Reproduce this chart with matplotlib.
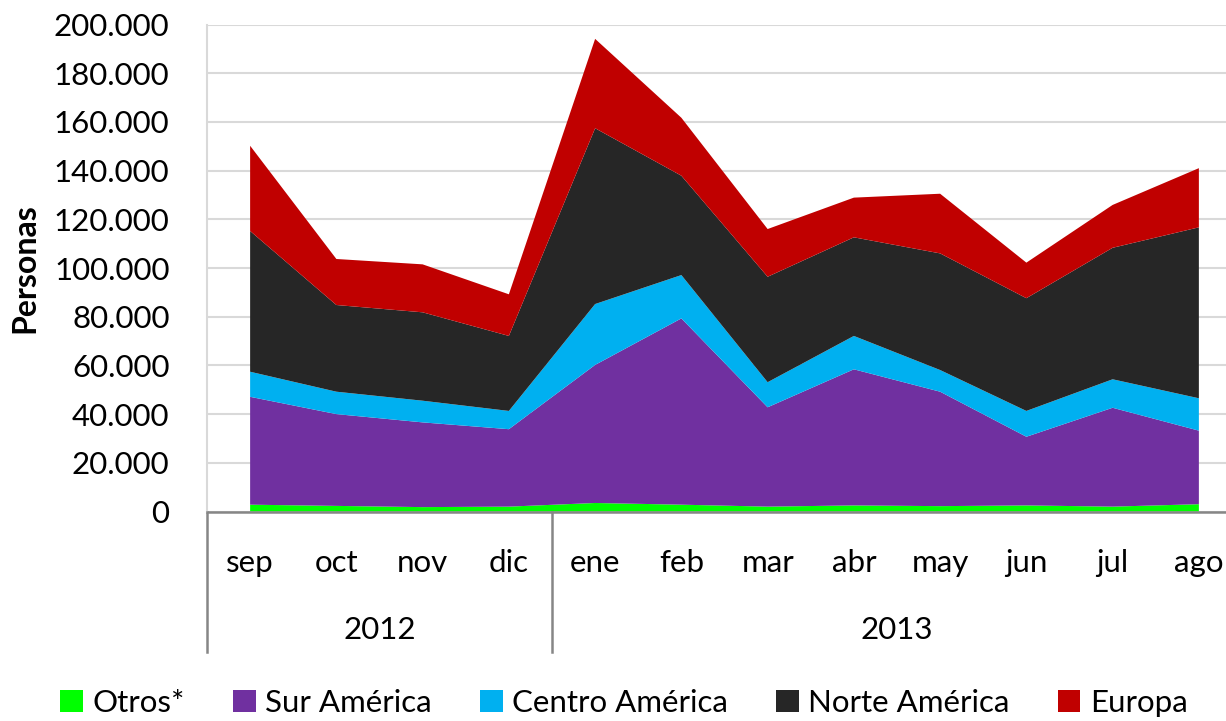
import matplotlib
matplotlib.use("Agg")
import matplotlib.pyplot as plt
from matplotlib.patches import Patch
from matplotlib.ticker import FuncFormatter, MultipleLocator

plt.rcParams["font.family"] = ["Lato", "DejaVu Sans"]

# Monthly visitors by origin, Sep 2012 - Aug 2013
months = ["sep", "oct", "nov", "dic", "ene", "feb", "mar", "abr", "may", "jun", "jul", "ago"]
years = ["2012", "2013"]
year_groups = [(0, 3), (4, 11)]

otros = [2800, 2300, 1800, 2000, 3500, 2800, 2000, 2500, 2200, 2500, 2000, 3000]
sur_america = [44300, 37700, 34800, 31800, 56700, 76500, 40800, 55900, 47000, 28200, 40600, 30200]
centro_america = [10300, 9200, 8900, 7500, 25000, 17800, 10300, 13700, 8900, 10600, 11700, 13300]
norte_america = [57800, 35600, 36300, 30800, 72200, 40800, 43300, 40500, 47900, 46300, 54000, 70200]
europa = [35000, 18900, 19700, 17100, 36700, 23800, 19600, 16300, 24500, 14600, 17600, 24300]

series_names = ["Otros*", "Sur América", "Centro América", "Norte América", "Europa"]
series_colors = ["#00FF00", "#7030A0", "#00B0F0", "#262626", "#C00000"]

W, H = 1226, 721
fig = plt.figure(figsize=(W / 100, H / 100), dpi=100)
# axes deliberately runs past the right edge, like the cropped original
ax = fig.add_axes([207 / W, (H - 511.5) / H, 1035 / W, 487 / H])

x = list(range(len(months)))
ax.stackplot(x, otros, sur_america, centro_america, norte_america, europa,
             colors=series_colors, linewidth=0, zorder=2)

ax.set_xlim(-0.5, len(months) - 0.5)
ax.set_ylim(0, 200000)
ax.yaxis.set_major_locator(MultipleLocator(20000))
ax.yaxis.set_major_formatter(FuncFormatter(lambda v, p: f"{v:,.0f}".replace(",", ".")))
ax.tick_params(axis="y", length=0, pad=27, labelsize=22.5)
ax.set_xticks([])
ax.grid(axis="y", color="#D9D9D9", linewidth=1.5, zorder=0)
ax.set_axisbelow(True)

for s in ["top", "right"]:
    ax.spines[s].set_visible(False)
ax.spines["left"].set_color("#D9D9D9")
ax.spines["left"].set_linewidth(1.5)
ax.spines["bottom"].set_color("#868686")
ax.spines["bottom"].set_linewidth(1.8)
ax.spines["bottom"].set_zorder(3)

ax.set_ylabel("Personas", fontsize=23, fontweight="bold")
ax.yaxis.set_label_coords(-0.162, 0.5)

# two-level category axis
trans = ax.get_xaxis_transform()
for i, m in enumerate(months):
    ax.text(i, -0.106, m, transform=trans, ha="center", va="center", fontsize=22.5)
for yr, (a, b) in zip(years, year_groups):
    ax.text((a + b) / 2, -0.243, yr, transform=trans, ha="center", va="center", fontsize=22.5)
for xb in [-0.5, 3.5, 11.5]:
    ax.plot([xb, xb], [0, -0.289], transform=trans, color="#868686",
            linewidth=1.8, clip_on=False)

handles = [Patch(facecolor=c, edgecolor="none") for c in series_colors]
fig.legend(handles, series_names, loc="center", bbox_to_anchor=(0.509, 0.025),
           ncol=5, frameon=False, fontsize=22.5, handlelength=0.72, handleheight=0.72,
           handletextpad=0.3, columnspacing=1.55, borderpad=0)

fig.savefig("out.png", dpi=100)
